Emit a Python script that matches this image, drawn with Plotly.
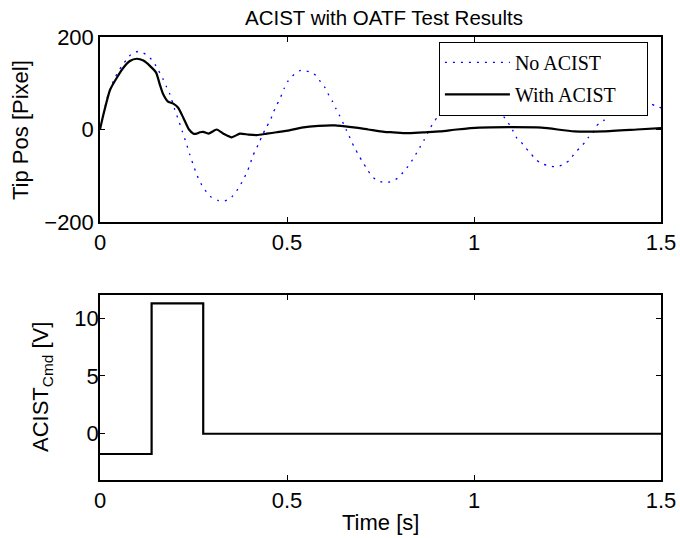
import plotly.graph_objects as go

# ---- data ----
t_no = [0.0, 0.022, 0.040, 0.058, 0.071, 0.085, 0.105, 0.123, 0.138, 0.150, 0.169, 0.178, 0.187,
        0.200, 0.210, 0.220, 0.230, 0.240, 0.250, 0.260, 0.272, 0.281, 0.297, 0.315, 0.332, 0.352,
        0.365, 0.376, 0.386, 0.394, 0.401, 0.408, 0.417, 0.426, 0.435, 0.444, 0.455, 0.463, 0.472,
        0.481, 0.492, 0.503, 0.520, 0.537, 0.559, 0.577, 0.590, 0.602, 0.612, 0.622, 0.631, 0.640,
        0.649, 0.658, 0.666, 0.673, 0.682, 0.692, 0.702, 0.713, 0.725, 0.737, 0.760, 0.780, 0.798,
        0.811, 0.824, 0.836, 0.847, 0.857, 0.867, 0.876, 0.884, 0.893, 0.905, 0.93, 0.95, 0.97,
        0.99, 1.01, 1.03, 1.05, 1.070, 1.083, 1.096, 1.105, 1.114, 1.126, 1.136, 1.150, 1.163,
        1.181, 1.200, 1.221, 1.242, 1.257, 1.270, 1.283, 1.297, 1.306, 1.317, 1.324, 1.335, 1.346,
        1.359, 1.373, 1.39, 1.41, 1.43, 1.45, 1.471, 1.488, 1.5]
v_no = [0, 76, 112, 137, 151, 164, 169, 162, 151, 137, 108, 92, 76,
        43, 20, -4, -28, -54, -78, -100, -120, -131, -146, -153, -155, -146,
        -133, -119, -104, -90, -76, -58, -43, -27, -11, 4, 19, 36, 52,
        66, 88, 105, 120, 128, 125, 117, 103, 90, 74, 60, 45, 31,
        16, 0, -14, -27, -41, -56, -70, -84, -99, -108, -115, -112, -104,
        -92, -79, -65, -50, -36, -22, -8, 5, 16, 31, 55, 75, 88,
        93, 90, 78, 60, 38, 24, 9, -4, -18, -27, -38, -50, -63,
        -74, -78, -81, -74, -65, -50, -40, -27, -17, -9, 4, 14, 19,
        29, 40, 50, 58, 62, 60, 56, 50, 47]

t_with = [0, 0.009, 0.027, 0.045, 0.062, 0.080, 0.098, 0.116, 0.134, 0.150, 0.160, 0.169, 0.181,
          0.196, 0.209, 0.223, 0.238, 0.250, 0.258, 0.267, 0.276, 0.290, 0.312, 0.330, 0.352, 0.374,
          0.397, 0.419, 0.446, 0.472, 0.506, 0.539, 0.584, 0.628, 0.673, 0.717, 0.760, 0.784, 0.820,
          0.864, 0.909, 0.954, 1.014, 1.092, 1.181, 1.268, 1.346, 1.435, 1.5]
v_with = [0, 32, 86, 112, 133, 148, 153, 149, 137, 123, 97, 76, 61,
          56, 47, 25, 0, -9, -9, -6, -5, -9, 0, -9, -17, -9,
          -11, -12, -9, -6, -2, 4, 8, 9, 5, 0, -5, -6, -8,
          -6, -4, 0, 4, 5, 4, -4, -4, 0, 3]

t_cmd = [0, 0.138, 0.276, 1.5]
v_cmd = [-1.75, 11.27, 0, 0]

series_names = ["No ACIST", "With ACIST"]
x_ticks = [0, 0.5, 1, 1.5]
y1_ticks = [-200, 0, 200]
y2_ticks = [0, 5, 10]

W, H = 680, 538
L, R, T, B = 100, 19, 37, 58   # plot area in pixels
PW, PH = W - L - R, H - T - B
SANS = "Liberation Sans, Arial, sans-serif"
SERIF = "Liberation Serif, Times New Roman, serif"
NB = "\u00a0"


def px(x):  # screen pixel -> paper fraction
    return (x - L) / PW


def py(y):
    return (H - B - y) / PH


fig = go.Figure()
fig.add_trace(go.Scatter(x=t_no, y=v_no, mode="lines", name=series_names[0] + NB * 5,
                         legendgroup="a",
                         line=dict(color="#0000ff", width=1.3, dash="2px,6px", shape="spline", smoothing=0.6),
                         xaxis="x", yaxis="y"))
fig.add_trace(go.Scatter(x=t_with, y=v_with, mode="lines", name=series_names[1] + NB * 5,
                         legendgroup="b",
                         line=dict(color="black", width=2.2, shape="spline", smoothing=0.6),
                         xaxis="x", yaxis="y"))
fig.add_trace(go.Scatter(x=t_cmd, y=v_cmd, mode="lines", showlegend=False,
                         line=dict(color="black", width=2.2, shape="hv"),
                         xaxis="x2", yaxis="y2"))

axis_common = dict(showline=True, linecolor="black", linewidth=1.5, mirror="ticks",
                   ticks="inside", ticklen=5, tickwidth=1, tickcolor="black",
                   showgrid=False, zeroline=False, automargin=False,
                   tickfont=dict(family=SANS, size=22, color="black"))

fig.update_layout(
    width=W, height=H,
    margin=dict(l=L, r=R, t=T, b=B, pad=0, autoexpand=False),
    paper_bgcolor="white", plot_bgcolor="white",
    xaxis=dict(domain=[0, 1], range=[0, 1.5], tickvals=x_ticks, anchor="y", **axis_common),
    yaxis=dict(domain=[py(222), 1], range=[-200, 200], tickvals=y1_ticks,
               anchor="x", ticklabelstandoff=0, **axis_common),
    xaxis2=dict(domain=[0, 1], range=[0, 1.5], tickvals=x_ticks, anchor="y2", **axis_common),
    yaxis2=dict(domain=[0, py(295)], range=[-4, 12], tickvals=y2_ticks,
                anchor="x2", ticklabelstandoff=-5, **axis_common),
    legend=dict(x=px(647.7), xanchor="right", y=py(41.7), yanchor="top",
                bgcolor="white", bordercolor="black", borderwidth=1.2,
                font=dict(family=SERIF, size=20, color="black"),
                itemwidth=65, tracegroupgap=3),
    showlegend=True,
    annotations=[
        dict(text="ACIST with OATF Test Results", x=px(383.5), y=py(17.5), xref="paper", yref="paper",
             xanchor="center", yanchor="middle", showarrow=False,
             font=dict(family=SANS, size=20.5, color="black")),
        dict(text="Tip Pos [Pixel]", x=px(20), y=py(130), xref="paper", yref="paper",
             xanchor="center", yanchor="middle", textangle=-90, showarrow=False,
             font=dict(family=SANS, size=22, color="black")),
        dict(text="ACIST<sub>Cmd</sub> [V]", x=px(42), y=py(387), xref="paper", yref="paper",
             xanchor="center", yanchor="middle", textangle=-90, showarrow=False,
             font=dict(family=SANS, size=22, color="black")),
        dict(text="Time [s]", x=px(380.5), y=py(522), xref="paper", yref="paper",
             xanchor="center", yanchor="middle", showarrow=False,
             font=dict(family=SANS, size=22, color="black")),
    ],
)

fig.write_html("out.html",
               config={"displayModeBar": False},
               post_script="document.body.style.margin='0px';document.body.style.overflow='hidden';")
